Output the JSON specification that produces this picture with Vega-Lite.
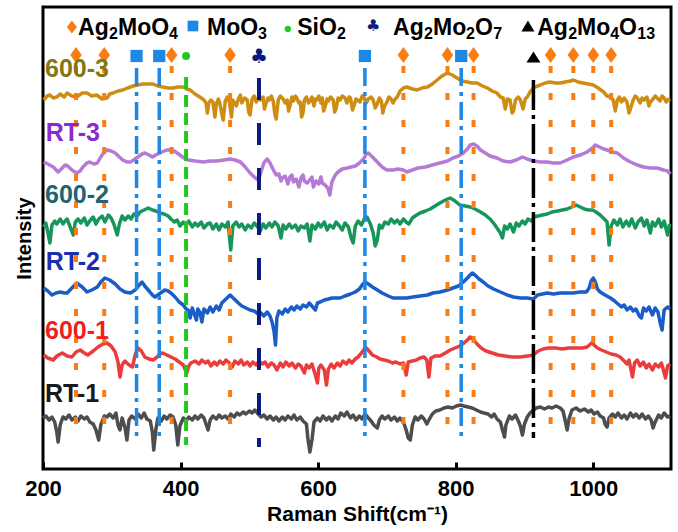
{
  "$schema": "https://vega.github.io/schema/vega-lite/v6.json",
  "width": 628,
  "height": 462,
  "autosize": "none",
  "padding": {"left": 43, "top": 7, "right": 7, "bottom": 63},
  "config": {
    "font": "Liberation Sans",
    "view": {"stroke": "#000", "strokeWidth": 3}
  },
  "datasets": {
    "spectra": [
      {"s":"600-3","x":201,"y":369},{"s":"600-3","x":206,"y":373},{"s":"600-3","x":210,"y":374},{"s":"600-3","x":215,"y":371},{"s":"600-3","x":220,"y":372},{"s":"600-3","x":225,"y":375},{"s":"600-3","x":231,"y":372},{"s":"600-3","x":235,"y":376},{"s":"600-3","x":242,"y":373},{"s":"600-3","x":249,"y":372},{"s":"600-3","x":257,"y":376},{"s":"600-3","x":264,"y":376},{"s":"600-3","x":271,"y":373},{"s":"600-3","x":278,"y":374},{"s":"600-3","x":286,"y":370},{"s":"600-3","x":293,"y":371},{"s":"600-3","x":297,"y":375},{"s":"600-3","x":302,"y":376},{"s":"600-3","x":309,"y":378},{"s":"600-3","x":316,"y":379},{"s":"600-3","x":323,"y":381},{"s":"600-3","x":331,"y":383},{"s":"600-3","x":338,"y":384},{"s":"600-3","x":345,"y":385},{"s":"600-3","x":352,"y":385},{"s":"600-3","x":360,"y":385},{"s":"600-3","x":367,"y":383},{"s":"600-3","x":374,"y":382},{"s":"600-3","x":382,"y":381},{"s":"600-3","x":389,"y":381},{"s":"600-3","x":396,"y":382},{"s":"600-3","x":404,"y":382},{"s":"600-3","x":409,"y":380},{"s":"600-3","x":414,"y":379},{"s":"600-3","x":421,"y":375},{"s":"600-3","x":428,"y":372},{"s":"600-3","x":434,"y":369},{"s":"600-3","x":437,"y":366},{"s":"600-3","x":439,"y":356},{"s":"600-3","x":441,"y":366},{"s":"600-3","x":444,"y":369},{"s":"600-3","x":447,"y":367},{"s":"600-3","x":450,"y":352},{"s":"600-3","x":452,"y":365},{"s":"600-3","x":455,"y":370},{"s":"600-3","x":457,"y":366},{"s":"600-3","x":460,"y":355},{"s":"600-3","x":462,"y":349},{"s":"600-3","x":465,"y":368},{"s":"600-3","x":468,"y":372},{"s":"600-3","x":471,"y":367},{"s":"600-3","x":474,"y":352},{"s":"600-3","x":476,"y":369},{"s":"600-3","x":481,"y":363},{"s":"600-3","x":484,"y":370},{"s":"600-3","x":487,"y":374},{"s":"600-3","x":489,"y":366},{"s":"600-3","x":493,"y":371},{"s":"600-3","x":497,"y":369},{"s":"600-3","x":499,"y":357},{"s":"600-3","x":501,"y":354},{"s":"600-3","x":504,"y":370},{"s":"600-3","x":507,"y":373},{"s":"600-3","x":510,"y":367},{"s":"600-3","x":513,"y":371},{"s":"600-3","x":516,"y":369},{"s":"600-3","x":520,"y":372},{"s":"600-3","x":522,"y":360},{"s":"600-3","x":524,"y":365},{"s":"600-3","x":527,"y":371},{"s":"600-3","x":529,"y":369},{"s":"600-3","x":532,"y":373},{"s":"600-3","x":535,"y":367},{"s":"600-3","x":537,"y":355},{"s":"600-3","x":539,"y":350},{"s":"600-3","x":542,"y":369},{"s":"600-3","x":545,"y":373},{"s":"600-3","x":549,"y":370},{"s":"600-3","x":552,"y":366},{"s":"600-3","x":555,"y":369},{"s":"600-3","x":557,"y":358},{"s":"600-3","x":559,"y":363},{"s":"600-3","x":562,"y":372},{"s":"600-3","x":564,"y":368},{"s":"600-3","x":567,"y":373},{"s":"600-3","x":569,"y":371},{"s":"600-3","x":572,"y":366},{"s":"600-3","x":574,"y":367},{"s":"600-3","x":576,"y":352},{"s":"600-3","x":578,"y":356},{"s":"600-3","x":580,"y":369},{"s":"600-3","x":583,"y":372},{"s":"600-3","x":586,"y":366},{"s":"600-3","x":588,"y":368},{"s":"600-3","x":591,"y":372},{"s":"600-3","x":594,"y":363},{"s":"600-3","x":596,"y":370},{"s":"600-3","x":598,"y":369},{"s":"600-3","x":601,"y":373},{"s":"600-3","x":604,"y":366},{"s":"600-3","x":606,"y":371},{"s":"600-3","x":608,"y":358},{"s":"600-3","x":610,"y":362},{"s":"600-3","x":613,"y":370},{"s":"600-3","x":615,"y":368},{"s":"600-3","x":618,"y":372},{"s":"600-3","x":622,"y":369},{"s":"600-3","x":624,"y":357},{"s":"600-3","x":626,"y":360},{"s":"600-3","x":629,"y":371},{"s":"600-3","x":632,"y":369},{"s":"600-3","x":635,"y":373},{"s":"600-3","x":639,"y":371},{"s":"600-3","x":642,"y":366},{"s":"600-3","x":645,"y":372},{"s":"600-3","x":647,"y":371},{"s":"600-3","x":650,"y":359},{"s":"600-3","x":652,"y":363},{"s":"600-3","x":655,"y":370},{"s":"600-3","x":657,"y":369},{"s":"600-3","x":661,"y":367},{"s":"600-3","x":664,"y":373},{"s":"600-3","x":667,"y":371},{"s":"600-3","x":670,"y":366},{"s":"600-3","x":673,"y":370},{"s":"600-3","x":677,"y":372},{"s":"600-3","x":680,"y":369},{"s":"600-3","x":683,"y":361},{"s":"600-3","x":686,"y":365},{"s":"600-3","x":689,"y":371},{"s":"600-3","x":692,"y":368},{"s":"600-3","x":694,"y":356},{"s":"600-3","x":696,"y":362},{"s":"600-3","x":700,"y":367},{"s":"600-3","x":703,"y":372},{"s":"600-3","x":706,"y":370},{"s":"600-3","x":709,"y":366},{"s":"600-3","x":711,"y":369},{"s":"600-3","x":715,"y":372},{"s":"600-3","x":719,"y":378},{"s":"600-3","x":724,"y":381},{"s":"600-3","x":729,"y":382},{"s":"600-3","x":737,"y":380},{"s":"600-3","x":744,"y":379},{"s":"600-3","x":751,"y":381},{"s":"600-3","x":759,"y":382},{"s":"600-3","x":766,"y":385},{"s":"600-3","x":773,"y":389},{"s":"600-3","x":780,"y":393},{"s":"600-3","x":788,"y":396},{"s":"600-3","x":795,"y":394},{"s":"600-3","x":802,"y":391},{"s":"600-3","x":809,"y":388},{"s":"600-3","x":817,"y":387},{"s":"600-3","x":824,"y":386},{"s":"600-3","x":831,"y":386},{"s":"600-3","x":839,"y":383},{"s":"600-3","x":846,"y":381},{"s":"600-3","x":853,"y":378},{"s":"600-3","x":860,"y":376},{"s":"600-3","x":865,"y":372},{"s":"600-3","x":869,"y":371},{"s":"600-3","x":872,"y":360},{"s":"600-3","x":875,"y":370},{"s":"600-3","x":879,"y":369},{"s":"600-3","x":882,"y":356},{"s":"600-3","x":884,"y":358},{"s":"600-3","x":887,"y":369},{"s":"600-3","x":891,"y":372},{"s":"600-3","x":894,"y":369},{"s":"600-3","x":898,"y":360},{"s":"600-3","x":901,"y":370},{"s":"600-3","x":904,"y":372},{"s":"600-3","x":908,"y":377},{"s":"600-3","x":913,"y":381},{"s":"600-3","x":919,"y":383},{"s":"600-3","x":923,"y":384},{"s":"600-3","x":930,"y":386},{"s":"600-3","x":937,"y":387},{"s":"600-3","x":945,"y":386},{"s":"600-3","x":952,"y":386},{"s":"600-3","x":959,"y":387},{"s":"600-3","x":967,"y":388},{"s":"600-3","x":971,"y":389},{"s":"600-3","x":978,"y":387},{"s":"600-3","x":985,"y":386},{"s":"600-3","x":993,"y":385},{"s":"600-3","x":1000,"y":384},{"s":"600-3","x":1007,"y":381},{"s":"600-3","x":1015,"y":377},{"s":"600-3","x":1020,"y":373},{"s":"600-3","x":1025,"y":372},{"s":"600-3","x":1029,"y":369},{"s":"600-3","x":1032,"y":358},{"s":"600-3","x":1035,"y":369},{"s":"600-3","x":1038,"y":372},{"s":"600-3","x":1041,"y":367},{"s":"600-3","x":1045,"y":371},{"s":"600-3","x":1049,"y":367},{"s":"600-3","x":1052,"y":356},{"s":"600-3","x":1054,"y":360},{"s":"600-3","x":1058,"y":369},{"s":"600-3","x":1061,"y":373},{"s":"600-3","x":1064,"y":371},{"s":"600-3","x":1068,"y":366},{"s":"600-3","x":1071,"y":371},{"s":"600-3","x":1074,"y":369},{"s":"600-3","x":1078,"y":372},{"s":"600-3","x":1081,"y":363},{"s":"600-3","x":1083,"y":367},{"s":"600-3","x":1087,"y":370},{"s":"600-3","x":1090,"y":373},{"s":"600-3","x":1093,"y":371},{"s":"600-3","x":1097,"y":368},{"s":"600-3","x":1100,"y":373},{"s":"600-3","x":1103,"y":371},{"s":"600-3","x":1106,"y":367},{"s":"600-3","x":1108,"y":369},{"s":"600-3","x":1112,"y":370},

      {"s":"RT-3","x":201,"y":307},{"s":"RT-3","x":207,"y":305},{"s":"RT-3","x":215,"y":302},{"s":"RT-3","x":222,"y":297},{"s":"RT-3","x":228,"y":301},{"s":"RT-3","x":232,"y":304},{"s":"RT-3","x":236,"y":303},{"s":"RT-3","x":242,"y":299},{"s":"RT-3","x":249,"y":296},{"s":"RT-3","x":254,"y":298},{"s":"RT-3","x":258,"y":302},{"s":"RT-3","x":264,"y":306},{"s":"RT-3","x":268,"y":307},{"s":"RT-3","x":274,"y":305},{"s":"RT-3","x":279,"y":306},{"s":"RT-3","x":284,"y":312},{"s":"RT-3","x":289,"y":317},{"s":"RT-3","x":293,"y":319},{"s":"RT-3","x":299,"y":318},{"s":"RT-3","x":305,"y":316},{"s":"RT-3","x":311,"y":312},{"s":"RT-3","x":316,"y":309},{"s":"RT-3","x":322,"y":307},{"s":"RT-3","x":327,"y":307},{"s":"RT-3","x":332,"y":309},{"s":"RT-3","x":338,"y":312},{"s":"RT-3","x":344,"y":315},{"s":"RT-3","x":348,"y":316},{"s":"RT-3","x":354,"y":314},{"s":"RT-3","x":359,"y":312},{"s":"RT-3","x":364,"y":314},{"s":"RT-3","x":373,"y":317},{"s":"RT-3","x":380,"y":319},{"s":"RT-3","x":388,"y":319},{"s":"RT-3","x":393,"y":317},{"s":"RT-3","x":399,"y":314},{"s":"RT-3","x":405,"y":311},{"s":"RT-3","x":411,"y":309},{"s":"RT-3","x":421,"y":308},{"s":"RT-3","x":433,"y":307},{"s":"RT-3","x":443,"y":308},{"s":"RT-3","x":453,"y":308},{"s":"RT-3","x":463,"y":309},{"s":"RT-3","x":472,"y":310},{"s":"RT-3","x":479,"y":309},{"s":"RT-3","x":487,"y":307},{"s":"RT-3","x":494,"y":302},{"s":"RT-3","x":501,"y":296},{"s":"RT-3","x":507,"y":292},{"s":"RT-3","x":513,"y":289},{"s":"RT-3","x":517,"y":297},{"s":"RT-3","x":521,"y":306},{"s":"RT-3","x":526,"y":310},{"s":"RT-3","x":530,"y":306},{"s":"RT-3","x":535,"y":299},{"s":"RT-3","x":539,"y":294},{"s":"RT-3","x":543,"y":295},{"s":"RT-3","x":546,"y":288},{"s":"RT-3","x":548,"y":291},{"s":"RT-3","x":552,"y":293},{"s":"RT-3","x":556,"y":285},{"s":"RT-3","x":559,"y":292},{"s":"RT-3","x":562,"y":294},{"s":"RT-3","x":564,"y":287},{"s":"RT-3","x":568,"y":290},{"s":"RT-3","x":572,"y":282},{"s":"RT-3","x":575,"y":291},{"s":"RT-3","x":578,"y":294},{"s":"RT-3","x":580,"y":288},{"s":"RT-3","x":584,"y":286},{"s":"RT-3","x":588,"y":289},{"s":"RT-3","x":591,"y":292},{"s":"RT-3","x":593,"y":282},{"s":"RT-3","x":597,"y":288},{"s":"RT-3","x":601,"y":285},{"s":"RT-3","x":604,"y":292},{"s":"RT-3","x":606,"y":286},{"s":"RT-3","x":610,"y":284},{"s":"RT-3","x":614,"y":281},{"s":"RT-3","x":617,"y":274},{"s":"RT-3","x":620,"y":287},{"s":"RT-3","x":625,"y":294},{"s":"RT-3","x":629,"y":297},{"s":"RT-3","x":635,"y":300},{"s":"RT-3","x":642,"y":301},{"s":"RT-3","x":648,"y":302},{"s":"RT-3","x":654,"y":303},{"s":"RT-3","x":660,"y":306},{"s":"RT-3","x":666,"y":310},{"s":"RT-3","x":670,"y":315},{"s":"RT-3","x":673,"y":316},{"s":"RT-3","x":679,"y":312},{"s":"RT-3","x":686,"y":307},{"s":"RT-3","x":693,"y":302},{"s":"RT-3","x":700,"y":299},{"s":"RT-3","x":709,"y":299},{"s":"RT-3","x":716,"y":300},{"s":"RT-3","x":724,"y":299},{"s":"RT-3","x":729,"y":297},{"s":"RT-3","x":737,"y":299},{"s":"RT-3","x":745,"y":301},{"s":"RT-3","x":756,"y":302},{"s":"RT-3","x":766,"y":304},{"s":"RT-3","x":777,"y":306},{"s":"RT-3","x":788,"y":308},{"s":"RT-3","x":796,"y":311},{"s":"RT-3","x":804,"y":313},{"s":"RT-3","x":811,"y":316},{"s":"RT-3","x":817,"y":320},{"s":"RT-3","x":821,"y":324},{"s":"RT-3","x":826,"y":325},{"s":"RT-3","x":831,"y":323},{"s":"RT-3","x":836,"y":319},{"s":"RT-3","x":843,"y":316},{"s":"RT-3","x":850,"y":313},{"s":"RT-3","x":860,"y":311},{"s":"RT-3","x":869,"y":308},{"s":"RT-3","x":879,"y":307},{"s":"RT-3","x":888,"y":309},{"s":"RT-3","x":897,"y":312},{"s":"RT-3","x":904,"y":310},{"s":"RT-3","x":913,"y":308},{"s":"RT-3","x":923,"y":307},{"s":"RT-3","x":933,"y":307},{"s":"RT-3","x":942,"y":306},{"s":"RT-3","x":952,"y":306},{"s":"RT-3","x":962,"y":309},{"s":"RT-3","x":971,"y":312},{"s":"RT-3","x":981,"y":314},{"s":"RT-3","x":991,"y":317},{"s":"RT-3","x":999,"y":321},{"s":"RT-3","x":1003,"y":324},{"s":"RT-3","x":1009,"y":322},{"s":"RT-3","x":1015,"y":320},{"s":"RT-3","x":1020,"y":319},{"s":"RT-3","x":1028,"y":317},{"s":"RT-3","x":1035,"y":316},{"s":"RT-3","x":1044,"y":311},{"s":"RT-3","x":1054,"y":307},{"s":"RT-3","x":1064,"y":304},{"s":"RT-3","x":1073,"y":302},{"s":"RT-3","x":1083,"y":301},{"s":"RT-3","x":1093,"y":301},{"s":"RT-3","x":1102,"y":299},{"s":"RT-3","x":1108,"y":298},{"s":"RT-3","x":1112,"y":295},

      {"s":"600-2","x":201,"y":242},{"s":"600-2","x":204,"y":246},{"s":"600-2","x":207,"y":237},{"s":"600-2","x":210,"y":226},{"s":"600-2","x":213,"y":244},{"s":"600-2","x":217,"y":248},{"s":"600-2","x":220,"y":245},{"s":"600-2","x":225,"y":250},{"s":"600-2","x":229,"y":245},{"s":"600-2","x":232,"y":248},{"s":"600-2","x":235,"y":250},{"s":"600-2","x":239,"y":243},{"s":"600-2","x":244,"y":234},{"s":"600-2","x":247,"y":247},{"s":"600-2","x":251,"y":250},{"s":"600-2","x":255,"y":246},{"s":"600-2","x":260,"y":251},{"s":"600-2","x":264,"y":244},{"s":"600-2","x":268,"y":248},{"s":"600-2","x":273,"y":252},{"s":"600-2","x":277,"y":245},{"s":"600-2","x":281,"y":250},{"s":"600-2","x":286,"y":253},{"s":"600-2","x":290,"y":247},{"s":"600-2","x":295,"y":254},{"s":"600-2","x":299,"y":251},{"s":"600-2","x":303,"y":245},{"s":"600-2","x":308,"y":234},{"s":"600-2","x":311,"y":245},{"s":"600-2","x":315,"y":253},{"s":"600-2","x":319,"y":249},{"s":"600-2","x":324,"y":253},{"s":"600-2","x":328,"y":250},{"s":"600-2","x":332,"y":255},{"s":"600-2","x":337,"y":253},{"s":"600-2","x":341,"y":257},{"s":"600-2","x":347,"y":259},{"s":"600-2","x":353,"y":261},{"s":"600-2","x":359,"y":259},{"s":"600-2","x":364,"y":258},{"s":"600-2","x":370,"y":256},{"s":"600-2","x":376,"y":255},{"s":"600-2","x":382,"y":253},{"s":"600-2","x":386,"y":250},{"s":"600-2","x":391,"y":247},{"s":"600-2","x":395,"y":249},{"s":"600-2","x":399,"y":243},{"s":"600-2","x":404,"y":247},{"s":"600-2","x":408,"y":244},{"s":"600-2","x":412,"y":248},{"s":"600-2","x":417,"y":242},{"s":"600-2","x":421,"y":246},{"s":"600-2","x":425,"y":243},{"s":"600-2","x":430,"y":247},{"s":"600-2","x":434,"y":241},{"s":"600-2","x":439,"y":245},{"s":"600-2","x":443,"y":246},{"s":"600-2","x":447,"y":240},{"s":"600-2","x":452,"y":245},{"s":"600-2","x":456,"y":239},{"s":"600-2","x":460,"y":245},{"s":"600-2","x":465,"y":242},{"s":"600-2","x":469,"y":247},{"s":"600-2","x":473,"y":219},{"s":"600-2","x":476,"y":243},{"s":"600-2","x":481,"y":247},{"s":"600-2","x":485,"y":242},{"s":"600-2","x":489,"y":245},{"s":"600-2","x":494,"y":239},{"s":"600-2","x":498,"y":244},{"s":"600-2","x":503,"y":241},{"s":"600-2","x":507,"y":246},{"s":"600-2","x":511,"y":243},{"s":"600-2","x":516,"y":238},{"s":"600-2","x":520,"y":245},{"s":"600-2","x":524,"y":241},{"s":"600-2","x":529,"y":246},{"s":"600-2","x":533,"y":242},{"s":"600-2","x":537,"y":247},{"s":"600-2","x":542,"y":243},{"s":"600-2","x":546,"y":231},{"s":"600-2","x":549,"y":244},{"s":"600-2","x":553,"y":240},{"s":"600-2","x":558,"y":245},{"s":"600-2","x":562,"y":241},{"s":"600-2","x":567,"y":244},{"s":"600-2","x":571,"y":238},{"s":"600-2","x":575,"y":243},{"s":"600-2","x":580,"y":241},{"s":"600-2","x":584,"y":245},{"s":"600-2","x":588,"y":228},{"s":"600-2","x":591,"y":244},{"s":"600-2","x":596,"y":240},{"s":"600-2","x":600,"y":246},{"s":"600-2","x":604,"y":242},{"s":"600-2","x":609,"y":247},{"s":"600-2","x":613,"y":239},{"s":"600-2","x":617,"y":244},{"s":"600-2","x":622,"y":241},{"s":"600-2","x":626,"y":247},{"s":"600-2","x":631,"y":243},{"s":"600-2","x":635,"y":239},{"s":"600-2","x":639,"y":246},{"s":"600-2","x":644,"y":242},{"s":"600-2","x":648,"y":231},{"s":"600-2","x":651,"y":226},{"s":"600-2","x":654,"y":243},{"s":"600-2","x":658,"y":248},{"s":"600-2","x":663,"y":244},{"s":"600-2","x":667,"y":250},{"s":"600-2","x":671,"y":252},{"s":"600-2","x":676,"y":245},{"s":"600-2","x":680,"y":236},{"s":"600-2","x":683,"y":223},{"s":"600-2","x":686,"y":229},{"s":"600-2","x":689,"y":244},{"s":"600-2","x":693,"y":241},{"s":"600-2","x":697,"y":247},{"s":"600-2","x":702,"y":245},{"s":"600-2","x":706,"y":250},{"s":"600-2","x":711,"y":246},{"s":"600-2","x":715,"y":249},{"s":"600-2","x":719,"y":245},{"s":"600-2","x":724,"y":250},{"s":"600-2","x":728,"y":247},{"s":"600-2","x":732,"y":245},{"s":"600-2","x":737,"y":251},{"s":"600-2","x":741,"y":253},{"s":"600-2","x":748,"y":256},{"s":"600-2","x":756,"y":258},{"s":"600-2","x":763,"y":260},{"s":"600-2","x":770,"y":263},{"s":"600-2","x":777,"y":266},{"s":"600-2","x":785,"y":269},{"s":"600-2","x":792,"y":271},{"s":"600-2","x":799,"y":268},{"s":"600-2","x":806,"y":264},{"s":"600-2","x":814,"y":263},{"s":"600-2","x":821,"y":262},{"s":"600-2","x":828,"y":260},{"s":"600-2","x":836,"y":257},{"s":"600-2","x":843,"y":254},{"s":"600-2","x":850,"y":250},{"s":"600-2","x":856,"y":245},{"s":"600-2","x":860,"y":241},{"s":"600-2","x":865,"y":236},{"s":"600-2","x":868,"y":231},{"s":"600-2","x":871,"y":243},{"s":"600-2","x":875,"y":240},{"s":"600-2","x":879,"y":245},{"s":"600-2","x":884,"y":237},{"s":"600-2","x":888,"y":246},{"s":"600-2","x":892,"y":243},{"s":"600-2","x":897,"y":248},{"s":"600-2","x":901,"y":245},{"s":"600-2","x":905,"y":250},{"s":"600-2","x":910,"y":248},{"s":"600-2","x":914,"y":252},{"s":"600-2","x":920,"y":253},{"s":"600-2","x":926,"y":254},{"s":"600-2","x":933,"y":255},{"s":"600-2","x":940,"y":257},{"s":"600-2","x":948,"y":258},{"s":"600-2","x":955,"y":259},{"s":"600-2","x":962,"y":260},{"s":"600-2","x":969,"y":262},{"s":"600-2","x":975,"y":264},{"s":"600-2","x":981,"y":262},{"s":"600-2","x":987,"y":260},{"s":"600-2","x":993,"y":259},{"s":"600-2","x":999,"y":259},{"s":"600-2","x":1004,"y":257},{"s":"600-2","x":1010,"y":254},{"s":"600-2","x":1016,"y":250},{"s":"600-2","x":1020,"y":247},{"s":"600-2","x":1023,"y":224},{"s":"600-2","x":1026,"y":243},{"s":"600-2","x":1030,"y":249},{"s":"600-2","x":1035,"y":244},{"s":"600-2","x":1039,"y":250},{"s":"600-2","x":1043,"y":242},{"s":"600-2","x":1048,"y":248},{"s":"600-2","x":1052,"y":243},{"s":"600-2","x":1056,"y":250},{"s":"600-2","x":1061,"y":241},{"s":"600-2","x":1065,"y":247},{"s":"600-2","x":1070,"y":251},{"s":"600-2","x":1074,"y":243},{"s":"600-2","x":1078,"y":249},{"s":"600-2","x":1083,"y":236},{"s":"600-2","x":1086,"y":247},{"s":"600-2","x":1090,"y":243},{"s":"600-2","x":1095,"y":250},{"s":"600-2","x":1099,"y":242},{"s":"600-2","x":1103,"y":248},{"s":"600-2","x":1108,"y":234},{"s":"600-2","x":1111,"y":245},

      {"s":"RT-2","x":201,"y":181},{"s":"RT-2","x":207,"y":178},{"s":"RT-2","x":213,"y":174},{"s":"RT-2","x":219,"y":176},{"s":"RT-2","x":225,"y":177},{"s":"RT-2","x":231,"y":176},{"s":"RT-2","x":235,"y":176},{"s":"RT-2","x":242,"y":181},{"s":"RT-2","x":249,"y":186},{"s":"RT-2","x":257,"y":182},{"s":"RT-2","x":264,"y":177},{"s":"RT-2","x":271,"y":179},{"s":"RT-2","x":279,"y":182},{"s":"RT-2","x":284,"y":187},{"s":"RT-2","x":290,"y":191},{"s":"RT-2","x":297,"y":189},{"s":"RT-2","x":305,"y":185},{"s":"RT-2","x":312,"y":180},{"s":"RT-2","x":319,"y":177},{"s":"RT-2","x":327,"y":176},{"s":"RT-2","x":334,"y":179},{"s":"RT-2","x":340,"y":184},{"s":"RT-2","x":344,"y":187},{"s":"RT-2","x":348,"y":183},{"s":"RT-2","x":353,"y":179},{"s":"RT-2","x":359,"y":174},{"s":"RT-2","x":363,"y":172},{"s":"RT-2","x":369,"y":175},{"s":"RT-2","x":373,"y":177},{"s":"RT-2","x":377,"y":179},{"s":"RT-2","x":382,"y":178},{"s":"RT-2","x":386,"y":176},{"s":"RT-2","x":392,"y":172},{"s":"RT-2","x":398,"y":167},{"s":"RT-2","x":404,"y":164},{"s":"RT-2","x":408,"y":160},{"s":"RT-2","x":411,"y":159},{"s":"RT-2","x":414,"y":151},{"s":"RT-2","x":417,"y":161},{"s":"RT-2","x":420,"y":155},{"s":"RT-2","x":423,"y":149},{"s":"RT-2","x":425,"y":160},{"s":"RT-2","x":428,"y":157},{"s":"RT-2","x":431,"y":147},{"s":"RT-2","x":434,"y":160},{"s":"RT-2","x":439,"y":156},{"s":"RT-2","x":443,"y":162},{"s":"RT-2","x":447,"y":157},{"s":"RT-2","x":452,"y":163},{"s":"RT-2","x":456,"y":159},{"s":"RT-2","x":460,"y":166},{"s":"RT-2","x":466,"y":170},{"s":"RT-2","x":472,"y":174},{"s":"RT-2","x":478,"y":170},{"s":"RT-2","x":484,"y":166},{"s":"RT-2","x":489,"y":163},{"s":"RT-2","x":495,"y":161},{"s":"RT-2","x":501,"y":159},{"s":"RT-2","x":507,"y":158},{"s":"RT-2","x":513,"y":155},{"s":"RT-2","x":517,"y":156},{"s":"RT-2","x":521,"y":153},{"s":"RT-2","x":526,"y":157},{"s":"RT-2","x":530,"y":153},{"s":"RT-2","x":533,"y":147},{"s":"RT-2","x":536,"y":137},{"s":"RT-2","x":538,"y":124},{"s":"RT-2","x":540,"y":151},{"s":"RT-2","x":543,"y":158},{"s":"RT-2","x":548,"y":155},{"s":"RT-2","x":552,"y":160},{"s":"RT-2","x":556,"y":157},{"s":"RT-2","x":561,"y":162},{"s":"RT-2","x":565,"y":159},{"s":"RT-2","x":569,"y":163},{"s":"RT-2","x":574,"y":160},{"s":"RT-2","x":578,"y":164},{"s":"RT-2","x":583,"y":162},{"s":"RT-2","x":587,"y":166},{"s":"RT-2","x":591,"y":163},{"s":"RT-2","x":596,"y":159},{"s":"RT-2","x":599,"y":166},{"s":"RT-2","x":603,"y":167},{"s":"RT-2","x":609,"y":169},{"s":"RT-2","x":615,"y":170},{"s":"RT-2","x":620,"y":171},{"s":"RT-2","x":626,"y":171},{"s":"RT-2","x":632,"y":171},{"s":"RT-2","x":639,"y":173},{"s":"RT-2","x":647,"y":175},{"s":"RT-2","x":654,"y":177},{"s":"RT-2","x":660,"y":180},{"s":"RT-2","x":664,"y":184},{"s":"RT-2","x":668,"y":187},{"s":"RT-2","x":673,"y":185},{"s":"RT-2","x":679,"y":182},{"s":"RT-2","x":686,"y":179},{"s":"RT-2","x":693,"y":176},{"s":"RT-2","x":702,"y":173},{"s":"RT-2","x":709,"y":171},{"s":"RT-2","x":719,"y":171},{"s":"RT-2","x":729,"y":171},{"s":"RT-2","x":738,"y":172},{"s":"RT-2","x":748,"y":173},{"s":"RT-2","x":759,"y":174},{"s":"RT-2","x":767,"y":176},{"s":"RT-2","x":777,"y":177},{"s":"RT-2","x":788,"y":179},{"s":"RT-2","x":796,"y":181},{"s":"RT-2","x":804,"y":183},{"s":"RT-2","x":811,"y":187},{"s":"RT-2","x":817,"y":191},{"s":"RT-2","x":821,"y":194},{"s":"RT-2","x":824,"y":196},{"s":"RT-2","x":828,"y":194},{"s":"RT-2","x":834,"y":190},{"s":"RT-2","x":840,"y":187},{"s":"RT-2","x":847,"y":183},{"s":"RT-2","x":855,"y":180},{"s":"RT-2","x":865,"y":177},{"s":"RT-2","x":875,"y":174},{"s":"RT-2","x":884,"y":172},{"s":"RT-2","x":894,"y":171},{"s":"RT-2","x":904,"y":171},{"s":"RT-2","x":913,"y":170},{"s":"RT-2","x":919,"y":174},{"s":"RT-2","x":926,"y":175},{"s":"RT-2","x":933,"y":176},{"s":"RT-2","x":942,"y":175},{"s":"RT-2","x":952,"y":176},{"s":"RT-2","x":962,"y":176},{"s":"RT-2","x":971,"y":176},{"s":"RT-2","x":981,"y":177},{"s":"RT-2","x":990,"y":177},{"s":"RT-2","x":994,"y":181},{"s":"RT-2","x":997,"y":188},{"s":"RT-2","x":1000,"y":191},{"s":"RT-2","x":1003,"y":187},{"s":"RT-2","x":1006,"y":180},{"s":"RT-2","x":1010,"y":177},{"s":"RT-2","x":1017,"y":174},{"s":"RT-2","x":1025,"y":171},{"s":"RT-2","x":1031,"y":168},{"s":"RT-2","x":1036,"y":165},{"s":"RT-2","x":1041,"y":162},{"s":"RT-2","x":1045,"y":164},{"s":"RT-2","x":1049,"y":159},{"s":"RT-2","x":1054,"y":162},{"s":"RT-2","x":1058,"y":158},{"s":"RT-2","x":1062,"y":160},{"s":"RT-2","x":1067,"y":153},{"s":"RT-2","x":1070,"y":151},{"s":"RT-2","x":1073,"y":161},{"s":"RT-2","x":1077,"y":158},{"s":"RT-2","x":1081,"y":162},{"s":"RT-2","x":1086,"y":154},{"s":"RT-2","x":1090,"y":161},{"s":"RT-2","x":1094,"y":157},{"s":"RT-2","x":1097,"y":147},{"s":"RT-2","x":1100,"y":139},{"s":"RT-2","x":1103,"y":159},{"s":"RT-2","x":1108,"y":162},{"s":"RT-2","x":1112,"y":160},

      {"s":"600-1","x":201,"y":114},{"s":"600-1","x":207,"y":111},{"s":"600-1","x":215,"y":109},{"s":"600-1","x":220,"y":113},{"s":"600-1","x":228,"y":116},{"s":"600-1","x":235,"y":113},{"s":"600-1","x":242,"y":112},{"s":"600-1","x":248,"y":117},{"s":"600-1","x":254,"y":119},{"s":"600-1","x":260,"y":116},{"s":"600-1","x":265,"y":114},{"s":"600-1","x":273,"y":118},{"s":"600-1","x":280,"y":122},{"s":"600-1","x":287,"y":125},{"s":"600-1","x":293,"y":126},{"s":"600-1","x":299,"y":123},{"s":"600-1","x":305,"y":117},{"s":"600-1","x":309,"y":107},{"s":"600-1","x":312,"y":92},{"s":"600-1","x":315,"y":104},{"s":"600-1","x":319,"y":108},{"s":"600-1","x":322,"y":106},{"s":"600-1","x":327,"y":103},{"s":"600-1","x":330,"y":102},{"s":"600-1","x":334,"y":114},{"s":"600-1","x":338,"y":121},{"s":"600-1","x":343,"y":118},{"s":"600-1","x":348,"y":112},{"s":"600-1","x":354,"y":110},{"s":"600-1","x":360,"y":109},{"s":"600-1","x":366,"y":112},{"s":"600-1","x":370,"y":115},{"s":"600-1","x":374,"y":116},{"s":"600-1","x":380,"y":114},{"s":"600-1","x":386,"y":112},{"s":"600-1","x":392,"y":110},{"s":"600-1","x":398,"y":107},{"s":"600-1","x":404,"y":104},{"s":"600-1","x":407,"y":99},{"s":"600-1","x":409,"y":96},{"s":"600-1","x":412,"y":103},{"s":"600-1","x":415,"y":106},{"s":"600-1","x":421,"y":108},{"s":"600-1","x":427,"y":105},{"s":"600-1","x":431,"y":109},{"s":"600-1","x":436,"y":106},{"s":"600-1","x":440,"y":108},{"s":"600-1","x":444,"y":103},{"s":"600-1","x":449,"y":107},{"s":"600-1","x":453,"y":104},{"s":"600-1","x":457,"y":108},{"s":"600-1","x":462,"y":105},{"s":"600-1","x":466,"y":109},{"s":"600-1","x":471,"y":106},{"s":"600-1","x":475,"y":102},{"s":"600-1","x":479,"y":108},{"s":"600-1","x":484,"y":105},{"s":"600-1","x":488,"y":109},{"s":"600-1","x":492,"y":104},{"s":"600-1","x":497,"y":107},{"s":"600-1","x":501,"y":103},{"s":"600-1","x":505,"y":107},{"s":"600-1","x":510,"y":104},{"s":"600-1","x":514,"y":108},{"s":"600-1","x":519,"y":105},{"s":"600-1","x":523,"y":107},{"s":"600-1","x":527,"y":102},{"s":"600-1","x":532,"y":106},{"s":"600-1","x":536,"y":104},{"s":"600-1","x":540,"y":99},{"s":"600-1","x":545,"y":106},{"s":"600-1","x":549,"y":102},{"s":"600-1","x":553,"y":107},{"s":"600-1","x":558,"y":103},{"s":"600-1","x":562,"y":106},{"s":"600-1","x":567,"y":101},{"s":"600-1","x":571,"y":105},{"s":"600-1","x":575,"y":103},{"s":"600-1","x":580,"y":96},{"s":"600-1","x":583,"y":104},{"s":"600-1","x":587,"y":101},{"s":"600-1","x":591,"y":105},{"s":"600-1","x":596,"y":94},{"s":"600-1","x":599,"y":86},{"s":"600-1","x":601,"y":101},{"s":"600-1","x":604,"y":104},{"s":"600-1","x":609,"y":99},{"s":"600-1","x":612,"y":84},{"s":"600-1","x":615,"y":100},{"s":"600-1","x":619,"y":105},{"s":"600-1","x":623,"y":101},{"s":"600-1","x":628,"y":106},{"s":"600-1","x":632,"y":103},{"s":"600-1","x":636,"y":108},{"s":"600-1","x":641,"y":105},{"s":"600-1","x":645,"y":109},{"s":"600-1","x":649,"y":106},{"s":"600-1","x":654,"y":110},{"s":"600-1","x":658,"y":112},{"s":"600-1","x":663,"y":116},{"s":"600-1","x":667,"y":120},{"s":"600-1","x":670,"y":121},{"s":"600-1","x":674,"y":118},{"s":"600-1","x":679,"y":114},{"s":"600-1","x":685,"y":112},{"s":"600-1","x":690,"y":110},{"s":"600-1","x":696,"y":109},{"s":"600-1","x":702,"y":108},{"s":"600-1","x":708,"y":106},{"s":"600-1","x":713,"y":107},{"s":"600-1","x":719,"y":105},{"s":"600-1","x":724,"y":106},{"s":"600-1","x":728,"y":94},{"s":"600-1","x":731,"y":107},{"s":"600-1","x":737,"y":108},{"s":"600-1","x":743,"y":109},{"s":"600-1","x":748,"y":111},{"s":"600-1","x":754,"y":112},{"s":"600-1","x":758,"y":109},{"s":"600-1","x":761,"y":92},{"s":"600-1","x":764,"y":111},{"s":"600-1","x":770,"y":113},{"s":"600-1","x":777,"y":113},{"s":"600-1","x":785,"y":116},{"s":"600-1","x":792,"y":119},{"s":"600-1","x":799,"y":121},{"s":"600-1","x":806,"y":123},{"s":"600-1","x":812,"y":126},{"s":"600-1","x":817,"y":129},{"s":"600-1","x":821,"y":132},{"s":"600-1","x":825,"y":130},{"s":"600-1","x":831,"y":125},{"s":"600-1","x":837,"y":121},{"s":"600-1","x":844,"y":118},{"s":"600-1","x":853,"y":116},{"s":"600-1","x":862,"y":114},{"s":"600-1","x":872,"y":113},{"s":"600-1","x":882,"y":112},{"s":"600-1","x":894,"y":112},{"s":"600-1","x":904,"y":113},{"s":"600-1","x":913,"y":114},{"s":"600-1","x":920,"y":118},{"s":"600-1","x":927,"y":120},{"s":"600-1","x":935,"y":121},{"s":"600-1","x":945,"y":121},{"s":"600-1","x":955,"y":120},{"s":"600-1","x":964,"y":121},{"s":"600-1","x":974,"y":121},{"s":"600-1","x":984,"y":121},{"s":"600-1","x":991,"y":122},{"s":"600-1","x":996,"y":125},{"s":"600-1","x":999,"y":127},{"s":"600-1","x":1001,"y":124},{"s":"600-1","x":1006,"y":121},{"s":"600-1","x":1012,"y":119},{"s":"600-1","x":1019,"y":117},{"s":"600-1","x":1026,"y":115},{"s":"600-1","x":1033,"y":114},{"s":"600-1","x":1039,"y":112},{"s":"600-1","x":1045,"y":108},{"s":"600-1","x":1049,"y":105},{"s":"600-1","x":1052,"y":109},{"s":"600-1","x":1057,"y":92},{"s":"600-1","x":1060,"y":106},{"s":"600-1","x":1064,"y":109},{"s":"600-1","x":1068,"y":103},{"s":"600-1","x":1073,"y":107},{"s":"600-1","x":1077,"y":101},{"s":"600-1","x":1081,"y":105},{"s":"600-1","x":1086,"y":99},{"s":"600-1","x":1090,"y":105},{"s":"600-1","x":1095,"y":102},{"s":"600-1","x":1099,"y":106},{"s":"600-1","x":1102,"y":99},{"s":"600-1","x":1105,"y":91},{"s":"600-1","x":1108,"y":103},{"s":"600-1","x":1112,"y":105},

      {"s":"RT-1","x":200,"y":51},{"s":"RT-1","x":204,"y":53},{"s":"RT-1","x":209,"y":49},{"s":"RT-1","x":213,"y":52},{"s":"RT-1","x":217,"y":47},{"s":"RT-1","x":220,"y":37},{"s":"RT-1","x":222,"y":27},{"s":"RT-1","x":225,"y":44},{"s":"RT-1","x":229,"y":52},{"s":"RT-1","x":233,"y":50},{"s":"RT-1","x":238,"y":54},{"s":"RT-1","x":242,"y":49},{"s":"RT-1","x":247,"y":52},{"s":"RT-1","x":251,"y":48},{"s":"RT-1","x":255,"y":53},{"s":"RT-1","x":260,"y":50},{"s":"RT-1","x":264,"y":52},{"s":"RT-1","x":268,"y":47},{"s":"RT-1","x":273,"y":45},{"s":"RT-1","x":277,"y":39},{"s":"RT-1","x":281,"y":29},{"s":"RT-1","x":284,"y":44},{"s":"RT-1","x":289,"y":53},{"s":"RT-1","x":293,"y":52},{"s":"RT-1","x":297,"y":55},{"s":"RT-1","x":302,"y":51},{"s":"RT-1","x":306,"y":56},{"s":"RT-1","x":309,"y":44},{"s":"RT-1","x":312,"y":39},{"s":"RT-1","x":315,"y":51},{"s":"RT-1","x":319,"y":42},{"s":"RT-1","x":322,"y":29},{"s":"RT-1","x":325,"y":49},{"s":"RT-1","x":329,"y":53},{"s":"RT-1","x":334,"y":50},{"s":"RT-1","x":338,"y":55},{"s":"RT-1","x":343,"y":51},{"s":"RT-1","x":347,"y":56},{"s":"RT-1","x":351,"y":50},{"s":"RT-1","x":356,"y":48},{"s":"RT-1","x":359,"y":37},{"s":"RT-1","x":361,"y":19},{"s":"RT-1","x":364,"y":39},{"s":"RT-1","x":367,"y":51},{"s":"RT-1","x":372,"y":48},{"s":"RT-1","x":376,"y":53},{"s":"RT-1","x":380,"y":50},{"s":"RT-1","x":385,"y":54},{"s":"RT-1","x":389,"y":52},{"s":"RT-1","x":393,"y":44},{"s":"RT-1","x":396,"y":24},{"s":"RT-1","x":399,"y":43},{"s":"RT-1","x":404,"y":51},{"s":"RT-1","x":408,"y":48},{"s":"RT-1","x":412,"y":52},{"s":"RT-1","x":417,"y":49},{"s":"RT-1","x":421,"y":53},{"s":"RT-1","x":425,"y":50},{"s":"RT-1","x":430,"y":54},{"s":"RT-1","x":434,"y":51},{"s":"RT-1","x":437,"y":45},{"s":"RT-1","x":440,"y":39},{"s":"RT-1","x":443,"y":49},{"s":"RT-1","x":447,"y":53},{"s":"RT-1","x":452,"y":50},{"s":"RT-1","x":456,"y":54},{"s":"RT-1","x":460,"y":51},{"s":"RT-1","x":465,"y":53},{"s":"RT-1","x":469,"y":50},{"s":"RT-1","x":473,"y":55},{"s":"RT-1","x":478,"y":52},{"s":"RT-1","x":482,"y":56},{"s":"RT-1","x":486,"y":54},{"s":"RT-1","x":491,"y":57},{"s":"RT-1","x":495,"y":55},{"s":"RT-1","x":500,"y":58},{"s":"RT-1","x":504,"y":56},{"s":"RT-1","x":508,"y":59},{"s":"RT-1","x":513,"y":55},{"s":"RT-1","x":517,"y":52},{"s":"RT-1","x":521,"y":54},{"s":"RT-1","x":526,"y":50},{"s":"RT-1","x":530,"y":53},{"s":"RT-1","x":535,"y":49},{"s":"RT-1","x":539,"y":52},{"s":"RT-1","x":543,"y":48},{"s":"RT-1","x":548,"y":52},{"s":"RT-1","x":552,"y":49},{"s":"RT-1","x":556,"y":53},{"s":"RT-1","x":561,"y":50},{"s":"RT-1","x":565,"y":54},{"s":"RT-1","x":569,"y":49},{"s":"RT-1","x":574,"y":52},{"s":"RT-1","x":578,"y":48},{"s":"RT-1","x":583,"y":45},{"s":"RT-1","x":585,"y":31},{"s":"RT-1","x":588,"y":17},{"s":"RT-1","x":591,"y":29},{"s":"RT-1","x":594,"y":47},{"s":"RT-1","x":599,"y":51},{"s":"RT-1","x":603,"y":48},{"s":"RT-1","x":607,"y":53},{"s":"RT-1","x":612,"y":49},{"s":"RT-1","x":616,"y":52},{"s":"RT-1","x":620,"y":48},{"s":"RT-1","x":625,"y":53},{"s":"RT-1","x":629,"y":50},{"s":"RT-1","x":633,"y":56},{"s":"RT-1","x":638,"y":53},{"s":"RT-1","x":642,"y":57},{"s":"RT-1","x":647,"y":51},{"s":"RT-1","x":651,"y":54},{"s":"RT-1","x":655,"y":49},{"s":"RT-1","x":660,"y":53},{"s":"RT-1","x":664,"y":50},{"s":"RT-1","x":668,"y":55},{"s":"RT-1","x":673,"y":51},{"s":"RT-1","x":677,"y":48},{"s":"RT-1","x":681,"y":44},{"s":"RT-1","x":686,"y":41},{"s":"RT-1","x":689,"y":49},{"s":"RT-1","x":693,"y":53},{"s":"RT-1","x":697,"y":50},{"s":"RT-1","x":702,"y":53},{"s":"RT-1","x":706,"y":49},{"s":"RT-1","x":711,"y":52},{"s":"RT-1","x":715,"y":48},{"s":"RT-1","x":719,"y":51},{"s":"RT-1","x":724,"y":47},{"s":"RT-1","x":728,"y":39},{"s":"RT-1","x":731,"y":31},{"s":"RT-1","x":734,"y":29},{"s":"RT-1","x":737,"y":44},{"s":"RT-1","x":741,"y":52},{"s":"RT-1","x":745,"y":49},{"s":"RT-1","x":750,"y":53},{"s":"RT-1","x":754,"y":50},{"s":"RT-1","x":758,"y":45},{"s":"RT-1","x":761,"y":49},{"s":"RT-1","x":766,"y":55},{"s":"RT-1","x":771,"y":58},{"s":"RT-1","x":777,"y":59},{"s":"RT-1","x":783,"y":61},{"s":"RT-1","x":789,"y":62},{"s":"RT-1","x":795,"y":61},{"s":"RT-1","x":801,"y":63},{"s":"RT-1","x":807,"y":64},{"s":"RT-1","x":812,"y":63},{"s":"RT-1","x":818,"y":62},{"s":"RT-1","x":824,"y":61},{"s":"RT-1","x":830,"y":59},{"s":"RT-1","x":836,"y":57},{"s":"RT-1","x":841,"y":56},{"s":"RT-1","x":847,"y":55},{"s":"RT-1","x":852,"y":52},{"s":"RT-1","x":856,"y":55},{"s":"RT-1","x":860,"y":50},{"s":"RT-1","x":865,"y":47},{"s":"RT-1","x":868,"y":39},{"s":"RT-1","x":871,"y":32},{"s":"RT-1","x":873,"y":44},{"s":"RT-1","x":878,"y":53},{"s":"RT-1","x":882,"y":50},{"s":"RT-1","x":887,"y":54},{"s":"RT-1","x":891,"y":48},{"s":"RT-1","x":894,"y":43},{"s":"RT-1","x":897,"y":34},{"s":"RT-1","x":900,"y":45},{"s":"RT-1","x":904,"y":52},{"s":"RT-1","x":908,"y":56},{"s":"RT-1","x":913,"y":59},{"s":"RT-1","x":917,"y":61},{"s":"RT-1","x":923,"y":62},{"s":"RT-1","x":929,"y":60},{"s":"RT-1","x":935,"y":62},{"s":"RT-1","x":940,"y":61},{"s":"RT-1","x":946,"y":63},{"s":"RT-1","x":952,"y":61},{"s":"RT-1","x":956,"y":58},{"s":"RT-1","x":959,"y":49},{"s":"RT-1","x":962,"y":39},{"s":"RT-1","x":965,"y":51},{"s":"RT-1","x":969,"y":59},{"s":"RT-1","x":975,"y":61},{"s":"RT-1","x":981,"y":58},{"s":"RT-1","x":987,"y":60},{"s":"RT-1","x":993,"y":57},{"s":"RT-1","x":997,"y":59},{"s":"RT-1","x":1001,"y":55},{"s":"RT-1","x":1006,"y":57},{"s":"RT-1","x":1010,"y":53},{"s":"RT-1","x":1015,"y":51},{"s":"RT-1","x":1017,"y":45},{"s":"RT-1","x":1020,"y":42},{"s":"RT-1","x":1023,"y":51},{"s":"RT-1","x":1028,"y":55},{"s":"RT-1","x":1032,"y":52},{"s":"RT-1","x":1036,"y":56},{"s":"RT-1","x":1041,"y":51},{"s":"RT-1","x":1045,"y":54},{"s":"RT-1","x":1049,"y":50},{"s":"RT-1","x":1054,"y":56},{"s":"RT-1","x":1058,"y":52},{"s":"RT-1","x":1062,"y":55},{"s":"RT-1","x":1067,"y":51},{"s":"RT-1","x":1071,"y":55},{"s":"RT-1","x":1076,"y":50},{"s":"RT-1","x":1080,"y":53},{"s":"RT-1","x":1084,"y":49},{"s":"RT-1","x":1087,"y":41},{"s":"RT-1","x":1090,"y":47},{"s":"RT-1","x":1095,"y":54},{"s":"RT-1","x":1099,"y":51},{"s":"RT-1","x":1103,"y":56},{"s":"RT-1","x":1108,"y":52},{"s":"RT-1","x":1112,"y":53}
    ],
    "ag2moo4": [{"x":248},{"x":289},{"x":387},{"x":472},{"x":724},{"x":788},{"x":826},{"x":938},{"x":971},{"x":1000},{"x":1026}],
    "moo3": [{"x":336},{"x":369},{"x":668},{"x":808}],
    "sio2": [{"x":408}],
    "ag2mo2o7": [{"x":514}],
    "ag2mo4o13": [{"x":913}],
    "legendMain": [
      {"x":251,"t":"Ag"},{"x":309,"t":"MoO"},
      {"x":438.5,"t":"MoO"},
      {"x":569.5,"t":"SiO"},
      {"x":709,"t":"Ag"},{"x":767,"t":"Mo"},{"x":828,"t":"O"},
      {"x":918.5,"t":"Ag"},{"x":976.5,"t":"Mo"},{"x":1037.5,"t":"O"}
    ],
    "legendSub": [
      {"x":296,"t":"2"},{"x":383,"t":"4"},
      {"x":512.5,"t":"3"},
      {"x":627.5,"t":"2"},
      {"x":754,"t":"2"},{"x":815,"t":"2"},{"x":854.5,"t":"7"},
      {"x":963.5,"t":"2"},{"x":1024.5,"t":"4"},{"x":1064,"t":"13"}
    ],
    "labels": [
      {"name":"600-3","x":203,"y":400},
      {"name":"RT-3","x":204,"y":336},
      {"name":"600-2","x":203,"y":274},
      {"name":"RT-2","x":204,"y":207},
      {"name":"600-1","x":203,"y":138},
      {"name":"RT-1","x":203,"y":75}
    ]
  },
  "encoding": {
    "x": {
      "field": "x", "type": "quantitative",
      "scale": {"domain": [200, 1113], "nice": false, "zero": false},
      "axis": {
        "values": [200, 400, 600, 800, 1000],
        "format": "d",
        "labelFlush": false,
        "title": "Raman Shift(cm⁻¹)",
        "titleFont": "Liberation Sans", "titleFontSize": 21, "titleFontWeight": "bold", "titleColor": "#000",
        "titlePadding": 4,
        "labelFont": "Liberation Sans", "labelFontSize": 22, "labelFontWeight": "bold", "labelColor": "#000",
        "labelPadding": 16,
        "tickSize": -7, "tickWidth": 3, "tickColor": "#000",
        "domain": false, "grid": false
      }
    }
  },
  "layer": [
    {
      "data": {"name": "spectra"},
      "mark": {"type": "line", "strokeWidth": 3.5, "strokeJoin": "round"},
      "encoding": {
        "y": {
          "field": "y", "type": "quantitative",
          "scale": {"domain": [0, 462], "nice": false, "zero": false},
          "axis": {
            "title": "Intensity", "labels": false, "ticks": false, "domain": false, "grid": false,
            "titleFont": "Liberation Sans", "titleFontSize": 20, "titleFontWeight": "bold", "titleColor": "#000",
            "titlePadding": 9
          }
        },
        "color": {
          "field": "s", "type": "nominal", "legend": null,
          "scale": {
            "domain": ["600-3","RT-3","600-2","RT-2","600-1","RT-1"],
            "range": ["#CD8C12","#B47AD6","#16965A","#1A5CC8","#EB3C3C","#4D4D4D"]
          }
        },
        "detail": {"field": "s"}
      }
    },
    {
      "data": {"name": "ag2moo4"},
      "mark": {"type": "rule", "color": "#FA7D14", "strokeWidth": 4, "strokeDash": [7, 20]},
      "encoding": {"y": {"datum": 403}, "y2": {"datum": 31}}
    },
    {
      "data": {"name": "moo3"},
      "mark": {"type": "rule", "color": "#1E88E5", "strokeWidth": 3.5, "strokeDash": [18, 6, 4, 6]},
      "encoding": {"y": {"datum": 401}, "y2": {"datum": 29}}
    },
    {
      "data": {"name": "sio2"},
      "mark": {"type": "rule", "color": "#22C822", "strokeWidth": 4, "strokeDash": [12, 6]},
      "encoding": {"y": {"datum": 392}, "y2": {"datum": 24}}
    },
    {
      "data": {"name": "ag2mo2o7"},
      "mark": {"type": "rule", "color": "#0A1A80", "strokeWidth": 4, "strokeDash": [22, 23]},
      "encoding": {"y": {"datum": 391}, "y2": {"datum": 22}}
    },
    {
      "data": {"name": "ag2mo4o13"},
      "mark": {"type": "rule", "color": "#000", "strokeWidth": 3.5, "strokeDash": [30, 5, 4, 5]},
      "encoding": {"y": {"datum": 389}, "y2": {"datum": 31}}
    },
    {
      "data": {"name": "ag2moo4"},
      "mark": {"type": "point", "filled": true, "color": "#FA7D14", "opacity": 1, "size": 256, "shape": "M0,-1L0.72,0L0,1L-0.72,0Z"},
      "encoding": {"y": {"datum": 414}}
    },
    {
      "data": {"name": "moo3"},
      "mark": {"type": "point", "filled": true, "color": "#1E88E5", "opacity": 1, "size": 150, "shape": "square"},
      "encoding": {"y": {"datum": 413}}
    },
    {
      "data": {"name": "sio2"},
      "mark": {"type": "point", "filled": true, "color": "#22C822", "opacity": 1, "size": 64, "shape": "circle"},
      "encoding": {"y": {"datum": 413}}
    },
    {
      "data": {"name": "ag2mo2o7"},
      "mark": {"type": "text", "text": "♣", "color": "#0A1A80", "font": "DejaVu Sans", "fontSize": 20, "baseline": "middle", "align": "center"},
      "encoding": {"y": {"datum": 412}}
    },
    {
      "data": {"name": "ag2mo4o13"},
      "mark": {"type": "point", "filled": true, "color": "#000", "opacity": 1, "size": 196, "shape": "M0,-0.8L1,0.8L-1,0.8Z"},
      "encoding": {"y": {"datum": 412}}
    },
    {
      "data": {"values": [{"x": 242}]},
      "mark": {"type": "point", "filled": true, "color": "#FA7D14", "opacity": 1, "size": 169, "shape": "M0,-1L0.77,0L0,1L-0.77,0Z"},
      "encoding": {"y": {"datum": 442}}
    },
    {
      "data": {"values": [{"x": 418}]},
      "mark": {"type": "point", "filled": true, "color": "#1E88E5", "opacity": 1, "size": 115, "shape": "square"},
      "encoding": {"y": {"datum": 443}}
    },
    {
      "data": {"values": [{"x": 556}]},
      "mark": {"type": "point", "filled": true, "color": "#22C822", "opacity": 1, "size": 40, "shape": "circle"},
      "encoding": {"y": {"datum": 440}}
    },
    {
      "data": {"values": [{"x": 680}]},
      "mark": {"type": "text", "text": "♣", "color": "#0A1A80", "font": "DejaVu Sans", "fontSize": 16, "baseline": "middle", "align": "center"},
      "encoding": {"y": {"datum": 443}}
    },
    {
      "data": {"values": [{"x": 905}]},
      "mark": {"type": "point", "filled": true, "color": "#000", "opacity": 1, "size": 169, "shape": "M0,-0.85L1,0.85L-1,0.85Z"},
      "encoding": {"y": {"datum": 443}}
    },
    {
      "data": {"name": "legendMain"},
      "mark": {"type": "text", "align": "left", "baseline": "alphabetic", "font": "Liberation Sans", "fontSize": 23, "fontWeight": "bold", "color": "#000"},
      "encoding": {"y": {"datum": 434}, "text": {"field": "t"}}
    },
    {
      "data": {"name": "legendSub"},
      "mark": {"type": "text", "align": "left", "baseline": "alphabetic", "font": "Liberation Sans", "fontSize": 16, "fontWeight": "bold", "color": "#000"},
      "encoding": {"y": {"datum": 430}, "text": {"field": "t"}}
    },
    {
      "data": {"name": "labels"},
      "mark": {"type": "text", "align": "left", "baseline": "middle", "font": "Liberation Sans", "fontSize": 25, "fontWeight": "bold"},
      "encoding": {
        "y": {"field": "y", "type": "quantitative"},
        "text": {"field": "name"},
        "color": {
          "field": "name", "type": "nominal", "legend": null,
          "scale": {
            "domain": ["600-3","RT-3","600-2","RT-2","600-1","RT-1"],
            "range": ["#857612","#8A2BD0","#1E6473","#1A2FB0","#F01E1E","#1A1A1A"]
          }
        }
      }
    }
  ],
  "resolve": {"scale": {"color": "independent"}}
}
